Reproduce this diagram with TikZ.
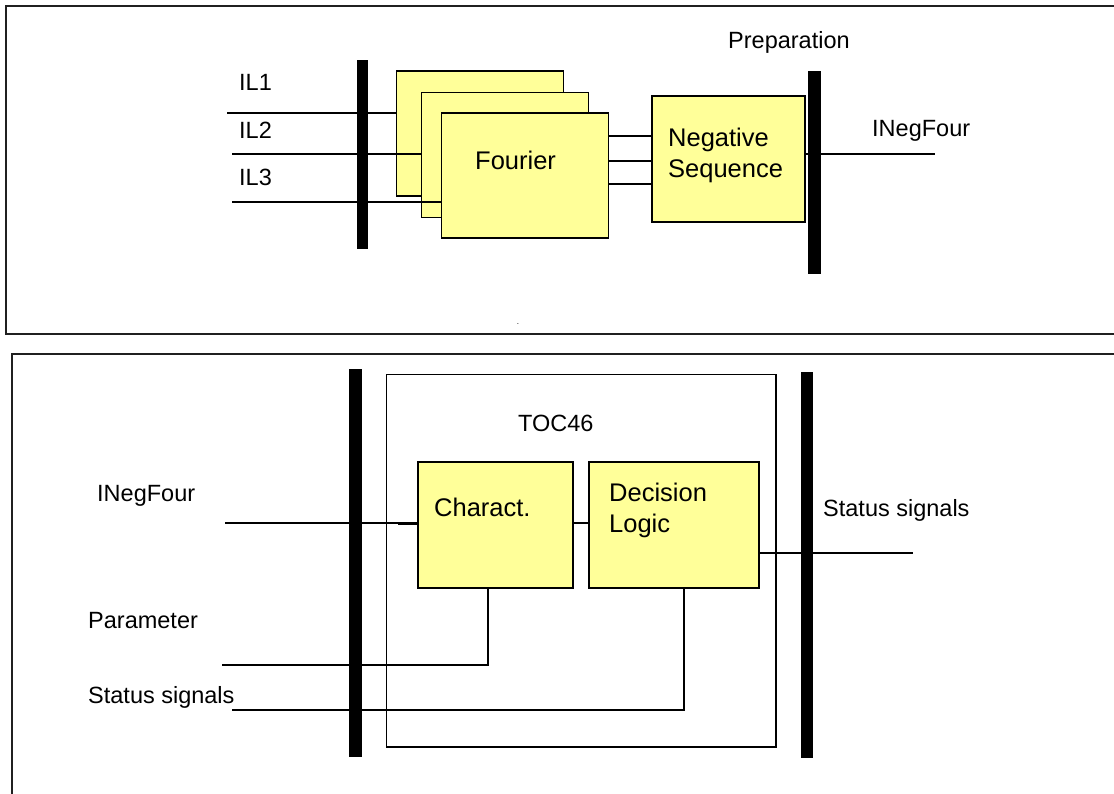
\documentclass[tikz,border=0pt]{standalone}
\usepackage{fontspec}
\setmainfont{Liberation Sans}
\definecolor{yel}{HTML}{FFFF99}
\definecolor{frm}{HTML}{202020}
\begin{document}
\begin{tikzpicture}[x=1pt,y=-1pt,
  ybox/.style={draw=black, fill=yel, line width=1.8pt, inner sep=0pt},
  busbar/.style={fill=black, draw=none, inner sep=0pt},
  wire/.style={line width=1.8pt},
  frame/.style={draw=frm, line width=1.8pt, inner sep=0pt},
  lbl/.style={font=\fontsize{23.5}{28}\selectfont, anchor=base west, inner sep=0pt},
  blbl/.style={font=\fontsize{25.5}{30}\selectfont, anchor=base west, inner sep=0pt}]
\useasboundingbox (0,0) rectangle (1114,794);
\clip (0,0) rectangle (1114,794);
\fill[white] (0,0) rectangle (1114,794);
% outer frames
\draw[frame] (6,6) rectangle (1140,334);
\draw[frame] (12,354) rectangle (1140,820);

% ===== upper part =====
\node[busbar, minimum width=11.5pt, minimum height=189pt] (bA) at (362.5,154.5) {};
\node[ybox, minimum width=167pt, minimum height=125pt] (f1) at (480,133.5) {};
\node[ybox, minimum width=167pt, minimum height=125pt] (f2) at (505,155) {};
\node[ybox, minimum width=167pt, minimum height=125pt] (f3) at (525,175.5) {};
\node[ybox, minimum width=152.7pt, minimum height=126pt] (ns) at (728.7,158.7) {};
\node[busbar, minimum width=12.4pt, minimum height=203.6pt] (bB) at (814.5,172.5) {};

\coordinate (i1) at (227,113);
\coordinate (i2) at (232,154);
\coordinate (i3) at (232,202);
\draw[wire] (i1) -- (i1 -| f1.west);
\draw[wire] (i2) -- (i2 -| f2.west);
\draw[wire] (i3) -- (i3 -| f3.west);
\foreach \yy in {136,161,184} {
  \coordinate (c) at (0,\yy);
  \draw[wire] (c -| f3.east) -- (c -| ns.west);
}
\coordinate (nout) at (935,154);
\draw[wire] (nout -| ns.east) -- (nout);

\node[lbl] (tIL1) at (239,91) {IL1};
\node[lbl] (tIL2) at (239,139) {IL2};
\node[lbl] (tIL3) at (239,185.5) {IL3};
\node[blbl] (tF) at (475,170) {Fourier};
\node[blbl] (tN1) at (668,147) {Negative};
\node[blbl] (tN2) at (668,177.5) {Sequence};
\node[lbl] (tP) at (728,49) {Preparation};
\node[lbl] (tI) at (872,136.5) {INegFour};
\node[font=\fontsize{8}{9}\selectfont, inner sep=0pt] (dot) at (518,324) {.};

% ===== lower part =====
\node[draw=black, line width=1.6pt, inner sep=0pt, minimum width=389.3pt, minimum height=372.4pt] (toc) at (581.3,560.5) {};
\node[busbar, minimum width=12.5pt, minimum height=388pt] (bC) at (355.3,563) {};
\node[busbar, minimum width=12pt, minimum height=386pt] (bD) at (807,565) {};
\node[ybox, minimum width=155.6pt, minimum height=126pt] (ch) at (495.5,524.7) {};
\node[ybox, minimum width=170pt, minimum height=126pt] (dl) at (674.3,524.7) {};

\coordinate (inN) at (225,523);
\draw[wire] (inN) -- (inN -| ch.west);
\coordinate (stub) at (398,523);
\draw[line width=3pt] (stub) -- (stub -| ch.west);
\coordinate (cd) at (0,523);
\draw[wire] (cd -| ch.east) -- (cd -| dl.west);
\coordinate (sout) at (913,553);
\draw[wire] (sout -| dl.east) -- (sout);
\coordinate (par) at (222,665);
\coordinate (parc) at (488,665);
\draw[wire] (par) -- (parc) -- (parc |- ch.south);
\coordinate (sin) at (232,710);
\coordinate (sinc) at (684,710);
\draw[wire] (sin) -- (sinc) -- (sinc |- dl.south);

\node[lbl] (tT) at (518,431.5) {TOC46};
\node[blbl] (tC) at (434,516) {Charact.};
\node[blbl] (tD1) at (609,501) {Decision};
\node[blbl] (tD2) at (609,532) {Logic};
\node[lbl] (tS) at (823,516) {Status signals};
\node[lbl] (tIN) at (97,501.5) {INegFour};
\node[lbl] (tPa) at (88,628) {Parameter};
\node[lbl] (tSs) at (88,703) {Status signals};
\end{tikzpicture}
\end{document}
